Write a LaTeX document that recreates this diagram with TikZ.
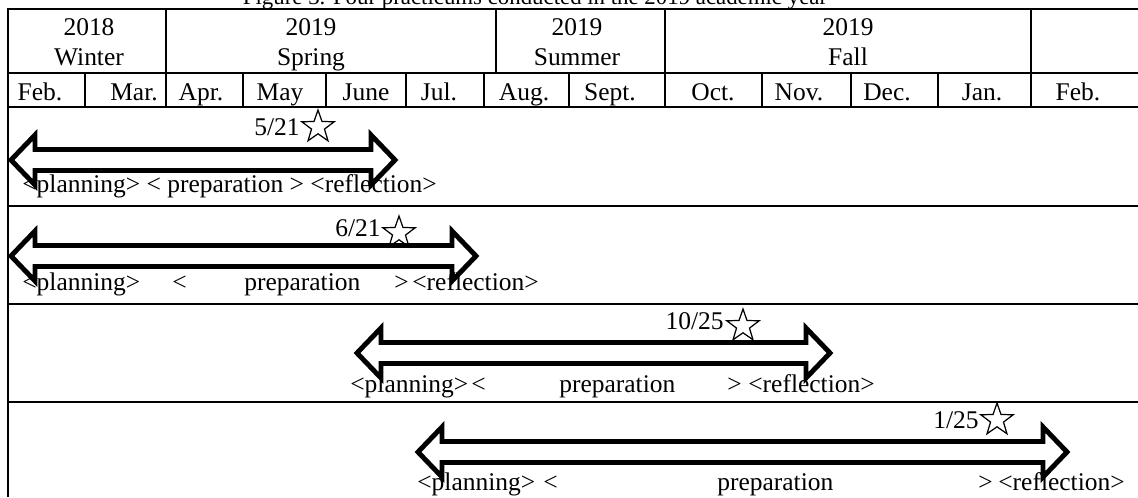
\documentclass[tikz,border=0pt]{standalone}
\usepackage{fontspec}
\setmainfont{Liberation Serif}
\usetikzlibrary{shapes.geometric}

\tikzset{
  txt/.style={inner sep=0pt, font=\fontsize{14.5}{17}\selectfont},
  rule/.style={line width=1.1pt},
  frame/.style={line width=1.7pt},
  span/.style={line width=2.8pt, line join=miter, fill=white},
  duestar/.style={star, star points=5, star point ratio=2.5, draw,
    line width=0.7pt, minimum size=0.68cm, inner sep=0pt}
}

\begin{document}
\begin{tikzpicture}[x=0.02cm,y=-0.02cm]
    \useasboundingbox (0,0) rectangle (1138,497);

    % caption, cut off by the top edge
    \node[txt,anchor=base,font=\fontsize{13}{15}\selectfont] (cap) at (535,5)
      {Figure 3. Four practicums conducted in the 2019 academic year};

    % table rules
    \draw[frame] (1138,9) -- (8,9) -- (8,497);
    \foreach \y in {73,107,206,304,402} {
        \draw[rule] (8,\y) -- (1138,\y);
      }
    \foreach \x in {166,496,665,1031} {
        \draw[rule] (\x,9) -- (\x,73);
      }
    \foreach \x in {85,166,243,326,406,484,569,665,762,851,938,1031} {
        \draw[rule] (\x,73) -- (\x,107);
      }

    % years and seasons
    \foreach \x/\yr/\s [count=\i] in {89/2018/Winter,311/2019/Spring,
        577/2019/Summer,848/2019/Fall} {
        \node[txt,anchor=base] (yr\i) at (\x,35) {\yr};
        \node[txt,anchor=base] (ssn\i) at (\x,65) {\s};
      }

    % months
    \foreach \x/\m [count=\i] in {
        40/Feb.,134/Mar.,201/Apr.,280/May,366/June,439/Jul.,524/Aug.,
        610/Sept.,713/Oct.,799/Nov.,887/Dec.,982/Jan.,1078/Feb.
      } {
        \node[txt,anchor=base] (mon\i) at (\x,100) {\m};
      }

    % practicum spans: centre line, left tip, right tip
    \foreach \y/\a/\b in {160/11/395,256/11/476,353/357/830,452/418/1067} {
        \draw[span] (\a,\y) -- (\a+24,\y-25) -- (\a+24,\y-10.5)
          -- (\b-24,\y-10.5) -- (\b-24,\y-25) -- (\b,\y)
          -- (\b-24,\y+25) -- (\b-24,\y+10.5) -- (\a+24,\y+10.5)
          -- (\a+24,\y+25) -- cycle;
      }

    % practicum days
    \foreach \x/\y [count=\i] in {318/127,399/233,743/326,997/420} {
        \node[duestar] (star\i) at (\x,\y) {};
      }
    \node[txt,anchor=base east] (day1) at (300,135) {5/21};
    \node[txt,anchor=base east] (day2) at (381,236) {6/21};
    \node[txt,anchor=base east] (day3) at (724,329) {10/25};
    \node[txt,anchor=base east] (day4) at (979,428) {1/25};

    % phases
    \node[txt,anchor=base west] (ph1) at (22,192)
      {<planning> < preparation > <reflection>};
    \foreach \x/\y/\t [count=\i] in {
        22/290/{<planning>},172/290/{<},244/290/{preparation},
        394/290/{>},412/290/{<reflection>},
        350/392/{<planning>},471/392/{<},559/392/{preparation},
        727/392/{>},748/392/{<reflection>},
        417/490/{<planning>},543/490/{<},717/490/{preparation},
        978/490/{>},998/490/{<reflection>}
      } {
        \node[txt,anchor=base west] (pt\i) at (\x,\y) {\t};
      }
  \end{tikzpicture}
\end{document}
